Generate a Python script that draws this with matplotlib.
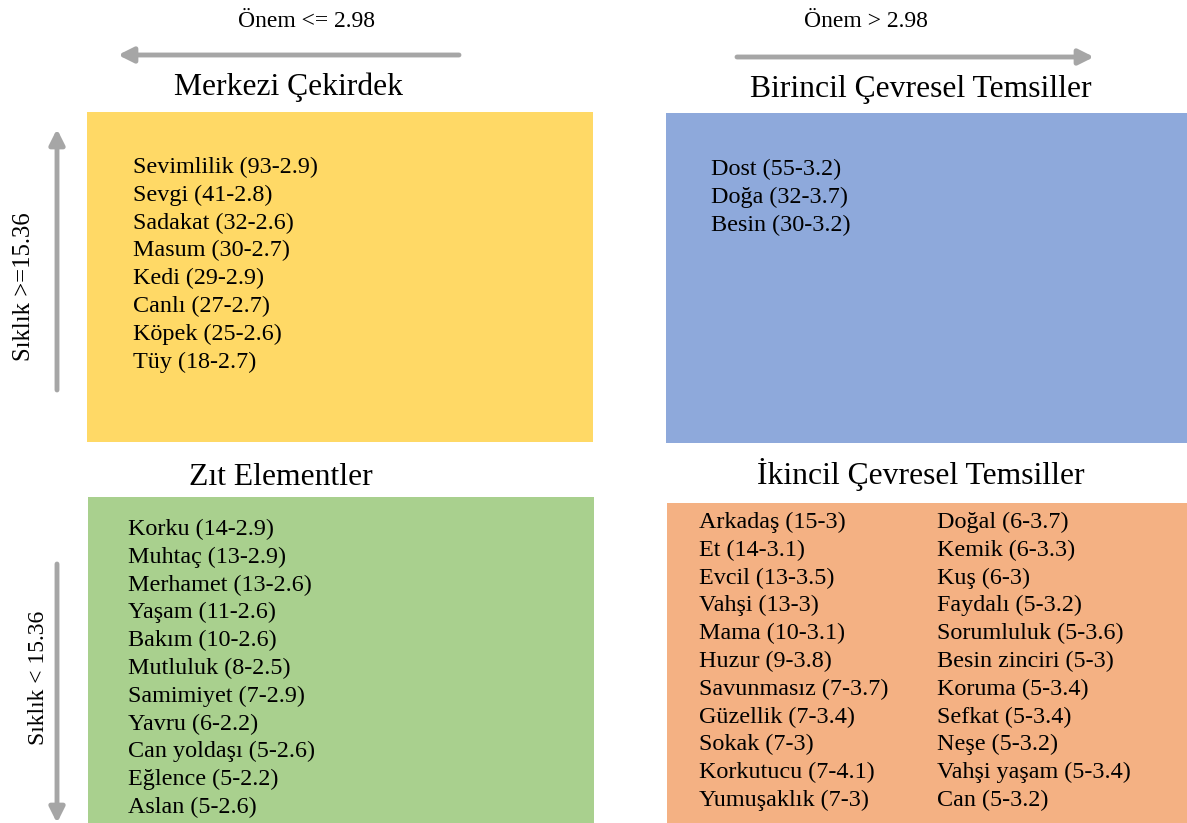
import matplotlib.pyplot as plt
from matplotlib.patches import Rectangle

plt.rcParams['font.family'] = ['Liberation Serif', 'DejaVu Serif']

# Quadrant contents: word, frequency, importance
core_words = ['Sevimlilik', 'Sevgi', 'Sadakat', 'Masum', 'Kedi', 'Canlı', 'Köpek', 'Tüy']
core_freq = [93, 41, 32, 30, 29, 27, 25, 18]
core_imp = [2.9, 2.8, 2.6, 2.7, 2.9, 2.7, 2.6, 2.7]

first_words = ['Dost', 'Doğa', 'Besin']
first_freq = [55, 32, 30]
first_imp = [3.2, 3.7, 3.2]

contrast_words = ['Korku', 'Muhtaç', 'Merhamet', 'Yaşam', 'Bakım', 'Mutluluk',
                  'Samimiyet', 'Yavru', 'Can yoldaşı', 'Eğlence', 'Aslan']
contrast_freq = [14, 13, 13, 11, 10, 8, 7, 6, 5, 5, 5]
contrast_imp = [2.9, 2.9, 2.6, 2.6, 2.6, 2.5, 2.9, 2.2, 2.6, 2.2, 2.6]

second_words = ['Arkadaş', 'Et', 'Evcil', 'Vahşi', 'Mama', 'Huzur', 'Savunmasız',
                'Güzellik', 'Sokak', 'Korkutucu', 'Yumuşaklık',
                'Doğal', 'Kemik', 'Kuş', 'Faydalı', 'Sorumluluk', 'Besin zinciri',
                'Koruma', 'Sefkat', 'Neşe', 'Vahşi yaşam', 'Can']
second_freq = [15, 14, 13, 13, 10, 9, 7, 7, 7, 7, 7,
               6, 6, 6, 5, 5, 5, 5, 5, 5, 5, 5]
second_imp = [3, 3.1, 3.5, 3, 3.1, 3.8, 3.7, 3.4, 3, 4.1, 3,
              3.7, 3.3, 3, 3.2, 3.6, 3, 3.4, 3.4, 3.2, 3.4, 3.2]

titles = ['Merkezi Çekirdek', 'Birincil Çevresel Temsiller',
          'Zıt Elementler', 'İkincil Çevresel Temsiller']
imp_labels = ['Önem <= 2.98', 'Önem > 2.98']
freq_labels = ['Sıklık >=15.36', 'Sıklık < 15.36']


def labels(words, freq, imp):
    return [f'{w} ({f}-{i:g})' for w, f, i in zip(words, freq, imp)]


fig = plt.figure(figsize=(11.87, 8.23), dpi=100)
ax = fig.add_axes([0, 0, 1, 1])
ax.set_xlim(0, 1187)
ax.set_ylim(823, 0)
ax.axis('off')

# boxes: (x0, y0, x1, y1, color)
boxes = [
    (87, 112, 593, 442, '#FFD966'),
    (666, 113, 1187, 443, '#8EA9DB'),
    (88, 497, 594, 823, '#A9D08E'),
    (667, 503, 1187, 823, '#F4B183'),
]
for x0, y0, x1, y1, c in boxes:
    ax.add_patch(Rectangle((x0, y0), x1 - x0, y1 - y0, color=c, lw=0))

# titles (baseline positions)
title_pos = [(289, 95), (921, 97), (281, 485), (921, 484)]
for t, (x, y) in zip(titles, title_pos):
    ax.text(x, y, t, ha='center', va='baseline', fontsize=22.8)

# arrows
arrow_kw = dict(arrowstyle='-|>,head_width=0.45,head_length=0.9', color='#A6A6A6', lw=3.5,
                shrinkA=0, shrinkB=0)
ax.annotate('', xy=(118, 55), xytext=(459, 55), arrowprops=arrow_kw)
ax.annotate('', xy=(1094, 57), xytext=(737, 57), arrowprops=arrow_kw)
ax.annotate('', xy=(57, 129), xytext=(57, 390), arrowprops=arrow_kw)
ax.annotate('', xy=(57, 823), xytext=(57, 564), arrowprops=arrow_kw)

ax.text(307, 27, imp_labels[0], ha='center', va='baseline', fontsize=17)
ax.text(866, 27, imp_labels[1], ha='center', va='baseline', fontsize=17)
ax.text(24, 287, freq_labels[0], ha='center', va='center', rotation=90, fontsize=17.8)
ax.text(38, 678, freq_labels[1], ha='center', va='center', rotation=90, fontsize=17)

# word lists (first baseline)
step = 27.8
groups = [
    (labels(core_words, core_freq, core_imp), 133, 173),
    (labels(first_words, first_freq, first_imp), 711, 175),
    (labels(contrast_words, contrast_freq, contrast_imp), 128, 535),
    (labels(second_words[:11], second_freq[:11], second_imp[:11]), 699, 528),
    (labels(second_words[11:], second_freq[11:], second_imp[11:]), 937, 528),
]
for lines, x, y in groups:
    for k, s in enumerate(lines):
        ax.text(x, y + k * step, s, ha='left', va='baseline', fontsize=17.4)

fig.savefig('out.png', dpi=100)
